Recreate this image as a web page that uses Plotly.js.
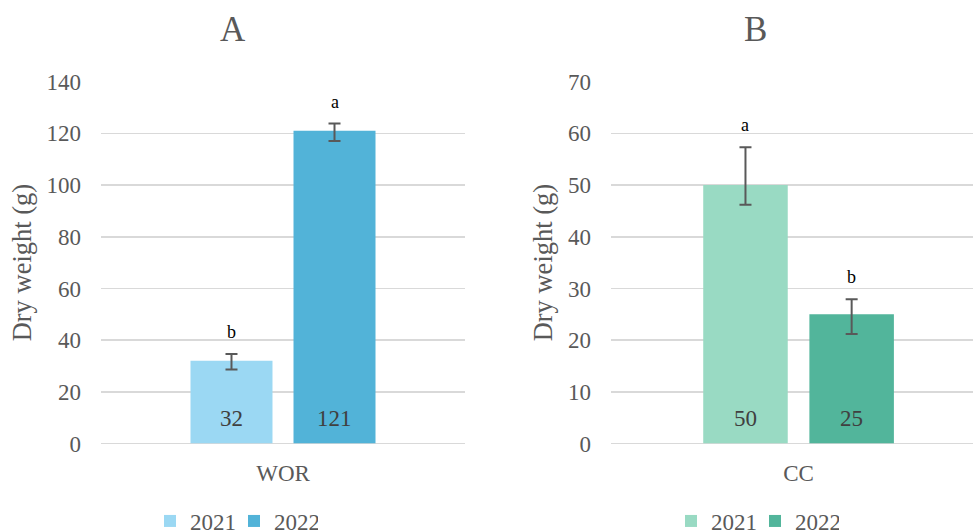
<!DOCTYPE html>
<html>
<head>
<meta charset="utf-8">
<script src="https://cdn.plot.ly/plotly-3.0.1.min.js"></script>
<style>
  html, body { margin: 0; padding: 0; background: #ffffff; }
  #chart { width: 973px; height: 532px; }
</style>
</head>
<body>
<div id="chart"></div>
<script>
// Dry weight (g) by year, two crops
const years = ['2021', '2022'];
const catA = ['WOR'];
const catB = ['CC'];

// WOR panel (A): 2021, 2022
const worValues = [32, 121];
const worErrUp = [2.6, 2.8];
const worErrDown = [3.4, 3.9];
const worLetters = ['b', 'a'];

// CC panel (B): 2021, 2022
const ccValues = [50, 25];
const ccErrUp = [7.3, 2.9];
const ccErrDown = [3.8, 3.8];
const ccLetters = ['a', 'b'];

const worColors = ['#9BD8F3', '#52B3D8'];
const ccColors = ['#99DAC3', '#52B59B'];

const FONT = 'Liberation Serif';
const GREY = '#595959';
const BARGAP = 0.434;
const GROUPGAP = 0.204;

function barTraces(cat, values, up, down, colors, xa, ya, legendId) {
  return years.map((yr, i) => ({
    type: 'bar',
    name: yr,
    x: cat,
    y: [values[i]],
    xaxis: xa,
    yaxis: ya,
    legend: legendId,
    marker: { color: colors[i], line: { width: 0 } },
    error_y: {
      type: 'data', symmetric: false,
      array: [up[i]], arrayminus: [down[i]],
      color: GREY, thickness: 2, width: 6
    },
    hoverinfo: 'skip'
  }));
}

const data = [
  ...barTraces(catA, worValues, worErrUp, worErrDown, worColors, 'x', 'y', 'legend'),
  ...barTraces(catB, ccValues, ccErrUp, ccErrDown, ccColors, 'x2', 'y2', 'legend2')
];

// offset of each year's bar inside its category group
const slot = (1 - BARGAP) / years.length;
const offsets = years.map((_, i) => (i - (years.length - 1) / 2) * slot);

function panelNotes(values, up, letters, xref, yref) {
  const notes = [];
  values.forEach((v, i) => {
    // value written at the foot of the bar
    notes.push({
      x: offsets[i], y: 0, xref: xref, yref: yref,
      text: String(v), showarrow: false,
      xanchor: 'center', yanchor: 'bottom', yshift: 11,
      font: { family: FONT, size: 23, color: '#404040' }
    });
    // significance letter above the error bar
    notes.push({
      x: offsets[i], y: v + up[i], xref: xref, yref: yref,
      text: letters[i], showarrow: false,
      xanchor: 'center', yanchor: 'bottom', yshift: 10,
      font: { family: FONT, size: 18, color: '#000000' }
    });
  });
  return notes;
}

const yBottom = 1 - 443.5 / 532;
const yTop = 1 - 81.7 / 532;

const axisY = (range, dtick) => ({
  range: range, dtick: dtick,
  showgrid: true, gridcolor: '#D9D9D9', gridwidth: 1.5,
  zeroline: true, zerolinecolor: '#D9D9D9', zerolinewidth: 1.5,
  showline: false, ticks: '',
  tickfont: { family: FONT, size: 23, color: GREY },
  ticklabelstandoff: 19,
  title: { text: 'Dry weight (g)', font: { family: FONT, size: 26.5, color: GREY }, standoff: 7 },
  domain: [yBottom, yTop],
  fixedrange: true
});

const axisX = (domain, range, yAnchor) => ({
  domain: domain, range: range, anchor: yAnchor,
  showgrid: false, zeroline: false, showline: false, ticks: '',
  tickfont: { family: FONT, size: 23, color: GREY },
  ticklabelstandoff: 13,
  fixedrange: true
});

// horizontal legend, left edge given in pixels
const legendStyle = (leftPx) => ({
  orientation: 'h', x: leftPx / 973, xanchor: 'left',
  y: 1 - 521 / 532, yanchor: 'middle',
  entrywidth: 39, entrywidthmode: 'pixels',
  font: { family: FONT, size: 23, color: GREY },
  bgcolor: 'rgba(0,0,0,0)', traceorder: 'normal'
});

const layout = {
  width: 973, height: 532,
  margin: { l: 0, r: 0, t: 0, b: 0, autoexpand: false },
  paper_bgcolor: '#ffffff', plot_bgcolor: '#ffffff',
  font: { family: FONT, color: GREY },
  barmode: 'group', bargap: BARGAP, bargroupgap: GROUPGAP,
  showlegend: true,
  xaxis: axisX([101 / 973, 465 / 973], [-0.5, 0.5], 'y'),
  yaxis: Object.assign(axisY([0, 140], 20), { anchor: 'x' }),
  xaxis2: axisX([611 / 973, 1], [-0.5, 0.465], 'y2'),
  yaxis2: Object.assign(axisY([0, 70], 10), { anchor: 'x2' }),
  legend: legendStyle(150),
  legend2: legendStyle(671),
  annotations: [
    { x: 233 / 973, y: 1 - 30 / 532, xref: 'paper', yref: 'paper', text: 'A',
      showarrow: false, xanchor: 'center', yanchor: 'middle',
      font: { family: FONT, size: 35, color: GREY } },
    { x: 755 / 973, y: 1 - 30 / 532, xref: 'paper', yref: 'paper', text: 'B',
      showarrow: false, xanchor: 'center', yanchor: 'middle',
      font: { family: FONT, size: 35, color: GREY } },
    ...panelNotes(worValues, worErrUp, worLetters, 'x', 'y'),
    ...panelNotes(ccValues, ccErrUp, ccLetters, 'x2', 'y2')
  ]
};

Plotly.newPlot('chart', data, layout, { displayModeBar: false, staticPlot: true });
</script>
</body>
</html>
